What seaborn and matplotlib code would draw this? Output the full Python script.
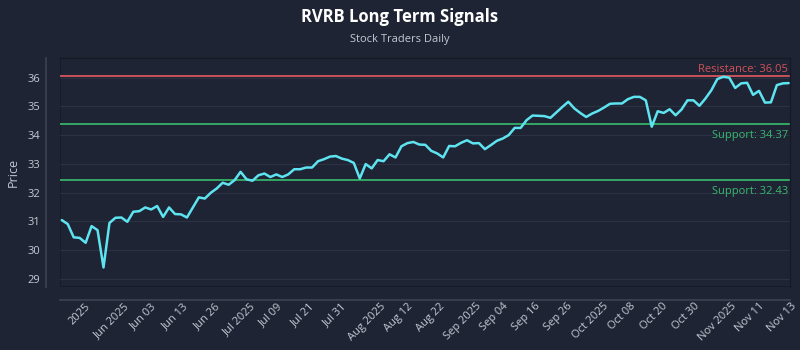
import numpy as np
import pandas as pd
import matplotlib
matplotlib.use("Agg")
import matplotlib.pyplot as plt
import seaborn as sns

# ---- data ----
prices = [
    31.04, 30.90, 30.44, 30.42, 30.25, 30.83, 30.69, 29.39, 30.94, 31.12,
    31.13, 30.98, 31.33, 31.35, 31.48, 31.41, 31.53, 31.15, 31.48, 31.25,
    31.24, 31.13, 31.48, 31.83, 31.79, 31.99, 32.14, 32.34, 32.27, 32.43,
    32.72, 32.46, 32.41, 32.60, 32.66, 32.54, 32.63, 32.54, 32.63, 32.81,
    32.81, 32.87, 32.87, 33.09, 33.16, 33.25, 33.27, 33.18, 33.13, 33.03,
    32.49, 32.99, 32.84, 33.13, 33.09, 33.33, 33.22, 33.61, 33.72, 33.76,
    33.67, 33.66, 33.45, 33.36, 33.22, 33.62, 33.61, 33.73, 33.82, 33.71,
    33.72, 33.51, 33.65, 33.80, 33.88, 34.00, 34.25, 34.25, 34.52, 34.68,
    34.67, 34.66, 34.60, 34.79, 34.98, 35.16, 34.93, 34.77, 34.63, 34.75,
    34.84, 34.96, 35.09, 35.10, 35.10, 35.25, 35.33, 35.33, 35.21, 34.29,
    34.83, 34.77, 34.90, 34.69, 34.89, 35.21, 35.21, 35.02, 35.27, 35.56,
    35.95, 36.03, 36.00, 35.64, 35.80, 35.82, 35.40, 35.54, 35.13, 35.14,
    35.74, 35.80, 35.81,
]
tick_labels = [
    "2025", "Jun 2025", "Jun 03", "Jun 13", "Jun 26", "Jul 2025", "Jul 09",
    "Jul 21", "Jul 31", "Aug 2025", "Aug 12", "Aug 22", "Sep 2025", "Sep 04",
    "Sep 16", "Sep 26", "Oct 2025", "Oct 08", "Oct 20", "Oct 30", "Nov 2025",
    "Nov 11", "Nov 13",
]
resistance_levels = [36.05]
support_levels = [34.37, 32.43]
y_ticks = [29, 30, 31, 32, 33, 34, 35, 36]

df = pd.DataFrame({"idx": np.arange(len(prices)), "Price": prices})

# ---- style ----
BG = "#1e2433"
GRID = "#2b3243"
TXT = "#c3c9d4"
LINE = "#5ee3f0"
RED = "#c9525b"
GREEN = "#33a765"

sns.set_theme(style="dark")
plt.rcParams["font.family"] = ["Open Sans", "DejaVu Sans"]

fig = plt.figure(figsize=(8, 3.5), dpi=100, facecolor=BG)
ax = fig.add_axes([0.075, 0.18, 0.9125, 0.654])
ax.set_facecolor(BG)

sns.lineplot(data=df, x="idx", y="Price", ax=ax, color=LINE, linewidth=1.8)

for r in resistance_levels:
    ax.axhline(r, color=RED, linewidth=1.4, zorder=1)
    ax.text(0.997, r + 0.05, f"Resistance: {r:.2f}", transform=ax.get_yaxis_transform(),
            ha="right", va="bottom", color="#d2525a", fontsize=8)
for s in support_levels:
    ax.axhline(s, color=GREEN, linewidth=1.4, zorder=1)
    ax.text(0.997, s - 0.2, f"Support: {s:.2f}", transform=ax.get_yaxis_transform(),
            ha="right", va="top", color="#3bb870", fontsize=8)

ax.set_xlim(-0.3, 122.2)
ax.set_ylim(28.71, 36.68)
ax.set_yticks(y_ticks)
ax.grid(axis="y", color=GRID, linewidth=0.8)
ax.grid(axis="x", visible=False)
ax.set_axisbelow(True)

ax.tick_params(axis="both", colors=TXT, labelsize=8, length=0, pad=4)
ax.tick_params(axis="x", pad=1, labelrotation=45)
xt = np.linspace(3.0, 120.8, len(tick_labels))
ax.set_xticks(xt, labels=tick_labels, rotation=45, ha="right",
              rotation_mode="anchor", color=TXT, fontsize=8)

ax.set_xlabel("")
ax.set_ylabel("Price", color=TXT, fontsize=9, labelpad=6)

for side in ["top", "right"]:
    ax.spines[side].set_color("#151a26")
    ax.spines[side].set_linewidth(1)
ax.spines["left"].set_position(("outward", 10))
ax.spines["bottom"].set_position(("outward", 9))
ax.spines["left"].set_color("#3a4152")
ax.spines["bottom"].set_color("#3a4152")

# inner frame lines
ax.axvline(-0.3, color="#151a26", linewidth=1.2, zorder=0)
ax.axhline(28.71, color="#151a26", linewidth=1.2, zorder=0)

fig.text(0.5, 0.952, "RVRB Long Term Signals", ha="center", va="center",
         color="white", fontsize=12, fontweight="bold")
fig.text(0.5, 0.888, "Stock Traders Daily", ha="center", va="center",
         color=TXT, fontsize=8)

fig.savefig("out.png", dpi=100, facecolor=BG)
